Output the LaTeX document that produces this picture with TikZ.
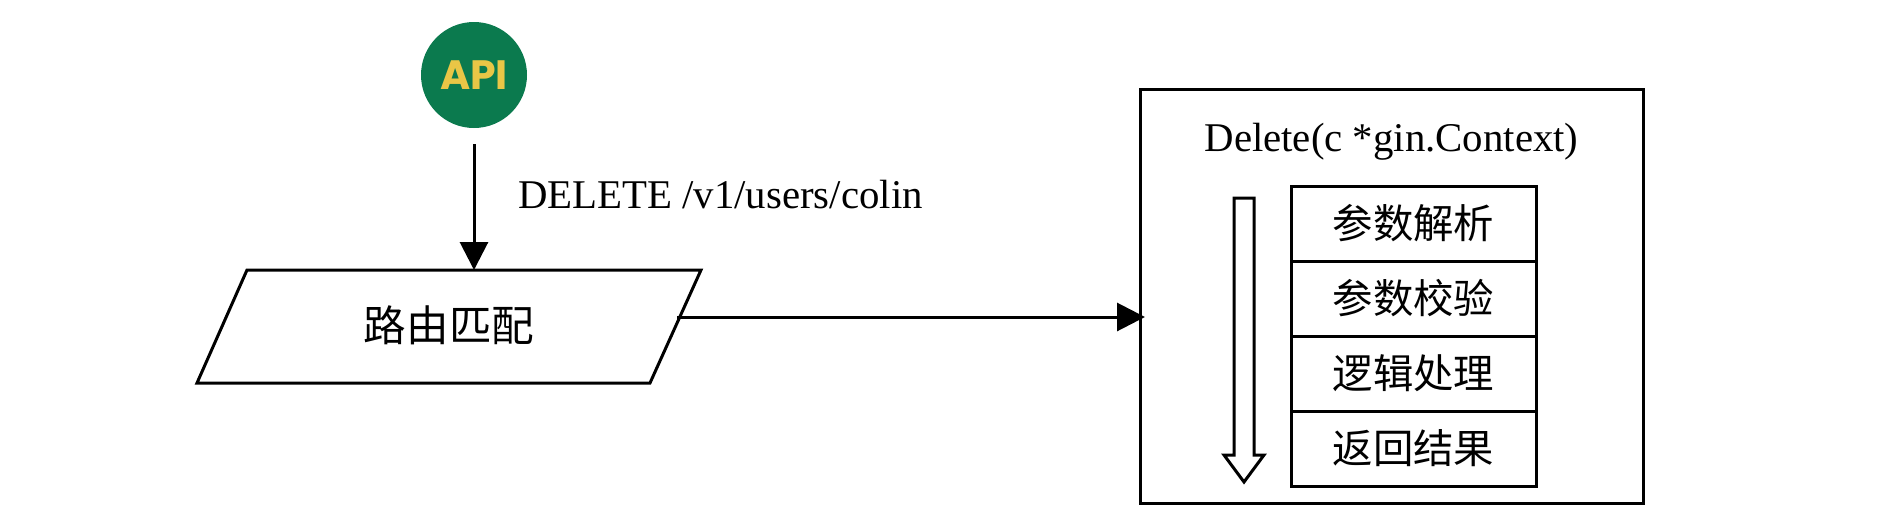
\documentclass[tikz,border=0pt]{standalone}
\usepackage{fontspec}
\setmainfont{Liberation Serif}
\newfontfamily\cjk{Noto Sans CJK SC}
\newfontfamily\apifont{Poppins}[BoldFont={* Bold}]
\usetikzlibrary{arrows.meta}
\definecolor{apigreen}{HTML}{0B7A4E}
\definecolor{apiyellow}{HTML}{E9C646}
\tikzset{
  x=1pt,y=-1pt,
  ln/.style={draw=black,line width=3pt,line join=miter},
  conn/.style={ln,-{Triangle[length=28pt,width=28pt,fill=black]}},
  stackcell/.style={ln,minimum width=245pt,minimum height=75pt,inner sep=0pt,outer sep=0pt,anchor=north west,font=\cjk\fontsize{40.4}{40}\selectfont},
  label/.style={inner sep=0pt,font=\fontsize{40.8}{41}\selectfont}
}
\begin{document}
\begin{tikzpicture}
\useasboundingbox (0,0) rectangle (1888,520);
\node[circle,fill=apigreen,minimum size=106pt,inner sep=0pt] (api) at (474,75) {};
\node[inner sep=0pt,text=apiyellow,font=\apifont\bfseries\fontsize{41}{41}\selectfont] (apitext) at (474,75) {API};
\coordinate (apiout) at (474,144);
\coordinate (routein) at (474,270);
\coordinate (tl) at (247,270);
\coordinate (tr) at (701,270);
\coordinate (br) at (650,383);
\coordinate (bl) at (197,383);
\draw[ln] (tl) -- (tr) -- (br) -- (bl) -- cycle;
\node[inner sep=0pt,font=\cjk\fontsize{42.6}{42}\selectfont] (route) at (449,325) {路由匹配};
\draw[conn] (apiout) -- (routein);
\node[label,anchor=west] (path) at (518,195) {DELETE /v1/users/colin};
\node[ln,minimum width=503pt,minimum height=414pt,inner sep=0pt,outer sep=0pt,anchor=north west] (handler) at (1140,89) {};
\node[label] (title) at (1391.5,142) {Delete(c *gin.Context)};
\coordinate (routeout) at (677,317);
\coordinate (handlerin) at (1145,317);
\draw[conn] (routeout) -- (handlerin);
\node[stackcell] (s1) at (1291,186) {参数解析};
\node[stackcell] (s2) at (1291,261) {参数校验};
\node[stackcell] (s3) at (1291,336) {逻辑处理};
\node[stackcell] (s4) at (1291,411) {返回结果};
\draw[ln] (1234,198) -- (1254,198) -- (1254,455) -- (1264,455) -- (1244,482) -- (1224,455) -- (1234,455) -- cycle;
\end{tikzpicture}
\end{document}
